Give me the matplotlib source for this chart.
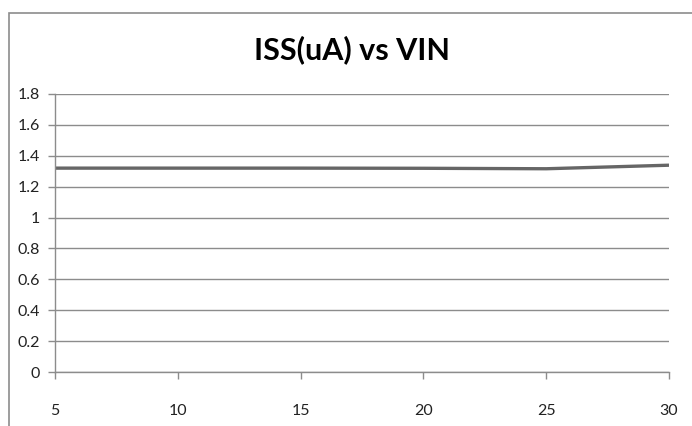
import matplotlib.pyplot as plt
from matplotlib.patches import Rectangle

vin = [5, 10, 15, 20, 25, 30]
iss = [1.32, 1.32, 1.32, 1.319, 1.316, 1.339]
yticks = [0, 0.2, 0.4, 0.6, 0.8, 1, 1.2, 1.4, 1.6, 1.8]
xticks = [5, 10, 15, 20, 25, 30]

plt.rcParams['font.family'] = ['Lato', 'DejaVu Sans']

fig = plt.figure(figsize=(6.92, 4.26), dpi=100)
W, H = 692.0, 426.0

# outer chart frame (runs off the right and bottom edge)
fig.patches.append(Rectangle((9 / W, -0.1), 1.2, 1 - 13 / H + 0.1,
                             transform=fig.transFigure, fill=False,
                             edgecolor='#8c8c8c', linewidth=1.2))

ax = fig.add_axes([55 / W, 1 - 372 / H, 614 / W, 278 / H])
ax.plot(vin, iss, color='#666666', linewidth=2.4, solid_capstyle='butt')

ax.set_xlim(5, 30)
ax.set_ylim(0, 1.8)
ax.set_xticks(xticks)
ax.set_xticklabels([str(v) for v in xticks])
ax.set_yticks(yticks)
ax.set_yticklabels(['0', '0.2', '0.4', '0.6', '0.8', '1', '1.2', '1.4', '1.6', '1.8'])
ax.grid(axis='y', color='#8c8c8c', linewidth=1.0)
ax.set_axisbelow(True)
for s in ['top', 'right']:
    ax.spines[s].set_visible(False)
for s in ['left', 'bottom']:
    ax.spines[s].set_color('#8c8c8c')
    ax.spines[s].set_linewidth(1.0)
ax.tick_params(axis='both', direction='out', length=5, width=1.0,
               color='#8c8c8c', labelcolor='#222222', labelsize=11.5)
ax.tick_params(axis='x', pad=18)
ax.tick_params(axis='y', pad=6)

fig.text(352 / W, 1 - 50 / H, 'ISS(uA) vs VIN', ha='center', va='center',
         fontsize=22, fontweight='bold', color='black')

fig.savefig('out.png', dpi=100)
